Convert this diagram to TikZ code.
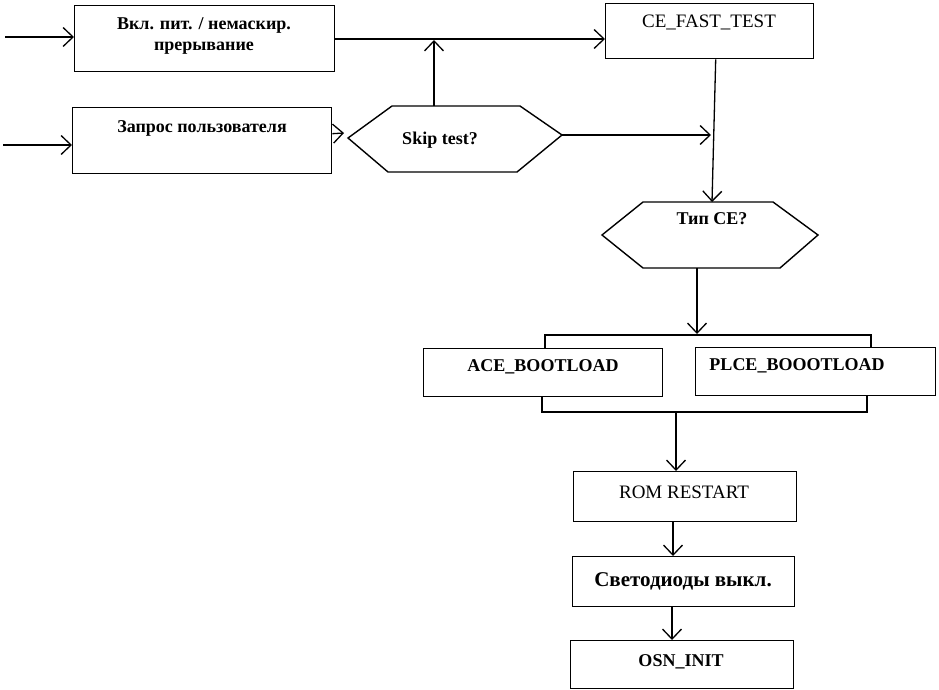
\documentclass[tikz,border=0pt]{standalone}
\usepackage{fontspec}
\setmainfont{Liberation Serif}
\usetikzlibrary{arrows.meta,calc}
\begin{document}
\begin{tikzpicture}[x=1pt,y=-1pt,
  box/.style={draw,line width=1.4pt,inner sep=0pt,anchor=north west},
  txt/.style={inner sep=0pt,font=\fontsize{18}{21}\selectfont\bfseries,align=center},
  rtxt/.style={inner sep=0pt,font=\fontsize{19}{21}\selectfont},
  conn/.style={line width=1.3pt},
  arr/.style={conn,-{Straight Barb[length=10pt,width=19pt,line width=1.3pt]}}]
\useasboundingbox (0,0) rectangle (939,690);
% boxes
\node[box,minimum width=260pt,minimum height=66pt] (b1) at (74,5) {};
\node[txt] (t1) at (204,36) {Вкл. пит. / немаскир.\\прерывание};
\node[box,minimum width=259pt,minimum height=66pt] (b2) at (72,107) {};
\node[txt] (t2) at (202,128) {Запрос пользователя};
\node[box,minimum width=208pt,minimum height=55pt] (b3) at (605,3) {};
\node[rtxt] (t3) at (709,22) {CE\_FAST\_TEST};
\node[box,minimum width=239pt,minimum height=48pt] (b4) at (423,348) {};
\node[txt] (t4) at (543,367) {ACE\_BOOTLOAD};
\node[box,minimum width=240pt,minimum height=48pt] (b5) at (695,347) {};
\node[txt] (t5) at (797,366) {PLCE\_BOOOTLOAD};
\node[box,minimum width=223pt,minimum height=50pt] (b6) at (573,471) {};
\node[rtxt] (t6) at (684,492) {ROM RESTART};
\node[box,minimum width=222pt,minimum height=50pt] (b7) at (572,556) {};
\node[txt,font=\fontsize{21}{22}\selectfont\bfseries] (t7) at (683,581) {Светодиоды выкл.};
\node[box,minimum width=223pt,minimum height=48pt] (b8) at (570,640) {};
\node[txt] (t8) at (681,662) {OSN\_INIT};
% hexagons
\coordinate (sL) at (348,138); \coordinate (sTL) at (392,106);
\coordinate (sTR) at (520,106); \coordinate (sR) at (562,135);
\coordinate (sBR) at (517,172); \coordinate (sBL) at (388,172);
\draw[line width=1.4pt,line join=miter] (sL)--(sTL)--(sTR)--(sR)--(sBR)--(sBL)--cycle;
\node[txt] (ts) at (440,140) {Skip test?};
\coordinate (hL) at (602,235); \coordinate (hTL) at (643,202);
\coordinate (hTR) at (773,202); \coordinate (hR) at (818,235);
\coordinate (hBR) at (780,268); \coordinate (hBL) at (643,268);
\draw[line width=1.4pt,line join=miter] (hL)--(hTL)--(hTR)--(hR)--(hBR)--(hBL)--cycle;
\node[txt] (th) at (712,219) {Тип CE?};
% free ends
\coordinate (in1) at (5,37);
\coordinate (in2) at (3,145);
\coordinate (sTop) at (434,106);
\coordinate (mainJ) at (434,39);
\coordinate (cJ) at (711,135);
\coordinate (hB) at (697,268);
\coordinate (brT) at (697,334);
\coordinate (brB) at (676,412);
% connectors
\draw[arr] (in1) -- (b1.west |- in1);
\draw[arr] (in2) -- (b2.west |- in2);
\draw[arr] ($(b2.east)+(0,-7)$) -- ($(sL)+(-4,-5)$);
\draw[arr] (sTop) -- ($(mainJ)+(0,1)$);
\draw[arr] (b1.east |- mainJ) -- (b3.west |- mainJ);
\draw[arr] ($(b3.south)+(6,0)$) -- (712,202);
\draw[arr] (sR) -- (cJ);
\draw[arr] (hB) -- (brT);
\draw[conn] (545,348) -- (545,335) -- (871,335) -- (871,347);
\draw[conn] (542,396) -- (542,412) -- (867,412) -- (867,395);
\draw[arr] (brB) -- (b6.north -| brB);
\draw[arr] (b6.south -| 673,0) -- (b7.north -| 673,0);
\draw[arr] (b7.south -| 672,0) -- (b8.north -| 672,0);
\end{tikzpicture}
\end{document}
